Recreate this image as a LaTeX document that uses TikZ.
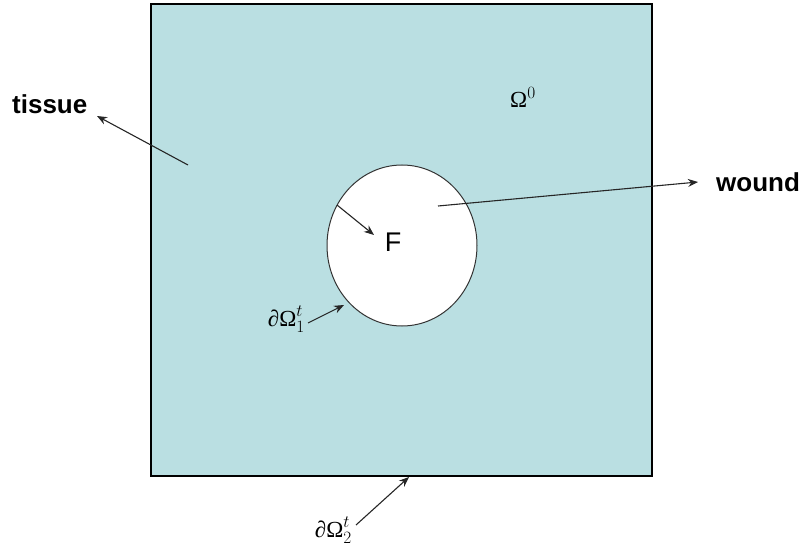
\documentclass[tikz,border=0pt]{standalone}
\usepackage{fontspec}
\setmainfont{Liberation Sans}
\newfontfamily\serifmath{Liberation Serif}
\usetikzlibrary{shapes.geometric,arrows.meta}
\definecolor{tissuefill}{RGB}{186,223,226}
\newcommand{\dOmega}{\hbox{\serifmath ∂Ω}}
\tikzset{
  conn/.style={draw=black!85, line width=1.1pt, -{Stealth[length=10pt,width=8pt]}},
  lbl/.style={inner sep=0pt, font=\fontsize{26}{26}\selectfont\bfseries},
  mathlbl/.style={inner sep=0pt, font=\fontsize{23}{23}\selectfont}
}
\begin{document}
\begin{tikzpicture}[x=1pt,y=-1pt]
\useasboundingbox (0,0) rectangle (809,548);
\node[draw=black, line width=1.2pt, fill=tissuefill, minimum width=501pt, minimum height=472pt, inner sep=0pt] (domain) at (401.5,240) {};
\node[ellipse, draw=black!80, line width=1pt, fill=white, minimum width=150pt, minimum height=161pt, inner sep=0pt] (woundreg) at (402,245.5) {};
\node[inner sep=0pt, font=\fontsize{27}{27}\selectfont] (F) at (393,242) {F};
\node[lbl, anchor=west] (tissue) at (12,104) {tissue};
\node[lbl, anchor=west] (wound) at (716,182) {wound};
\node[mathlbl, anchor=west] (omega0) at (510,97) {$\hbox{\serifmath Ω}^{0}$};
\node[mathlbl, anchor=east] (om1) at (305,319) {$\dOmega_{1}^{t}$};
\node[mathlbl, anchor=east] (om2) at (352,530) {$\dOmega_{2}^{t}$};
\coordinate (tstart) at (188,165);
\coordinate (tend) at (97,116);
\coordinate (wstart) at (438,206);
\coordinate (wend) at (698,182);
\coordinate (fstart) at (337,205);
\coordinate (fend) at (374,235);
\coordinate (b1start) at (308,323);
\coordinate (b1end) at (344,305);
\coordinate (b2start) at (356,525);
\coordinate (b2end) at (409,477);
\draw[conn] (tstart) -- (tend);
\draw[conn] (wstart) -- (wend);
\draw[conn] (fstart) -- (fend);
\draw[conn] (b1start) -- (b1end);
\draw[conn] (b2start) -- (b2end);
\end{tikzpicture}
\end{document}
